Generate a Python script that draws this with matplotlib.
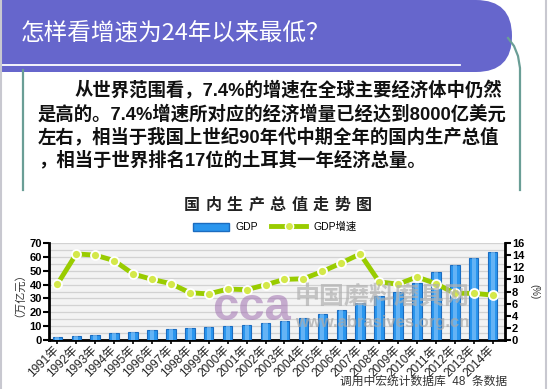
import matplotlib
matplotlib.use('Agg')
import matplotlib.pyplot as plt
from matplotlib.patches import FancyBboxPatch, Patch
from matplotlib.lines import Line2D
from matplotlib.ticker import MultipleLocator

plt.rcParams['font.family'] = ['Liberation Sans', 'Noto Sans CJK SC', 'DejaVu Sans']

years = ['1991年', '1992年', '1993年', '1994年', '1995年', '1996年', '1997年', '1998年',
         '1999年', '2000年', '2001年', '2002年', '2003年', '2004年', '2005年', '2006年',
         '2007年', '2008年', '2009年', '2010年', '2011年', '2012年', '2013年', '2014年']
# GDP, 万亿元
gdp = [2.2, 2.7, 3.6, 4.9, 6.1, 7.2, 8.0, 8.5, 9.1, 10.0, 11.1, 12.2,
       13.7, 16.2, 18.7, 21.9, 27.0, 32.0, 34.9, 41.3, 48.9, 54.0, 59.5, 63.6]
# GDP增速, %
growth = [9.2, 14.2, 14.0, 13.1, 10.9, 10.0, 9.3, 7.8, 7.6, 8.4, 8.3, 9.1,
          10.0, 10.1, 11.3, 12.7, 14.2, 9.6, 9.2, 10.4, 9.3, 7.7, 7.7, 7.4]

banner_title = '怎样看增速为24年以来最低？'
paragraph = ['从世界范围看，7.4%的增速在全球主要经济体中仍然',
             '是高的。7.4%增速所对应的经济增量已经达到8000亿美元',
             '左右，相当于我国上世纪90年代中期全年的国内生产总值',
             '，相当于世界排名17位的土耳其一年经济总量。']
chart_title = '国内生产总值走势图'
footer = '调用中宏统计数据库  48  条数据'

W, H = 550, 389
fig = plt.figure(figsize=(W / 100, H / 100), dpi=100)
fig.patch.set_facecolor('white')

# slide background drawn in pixel coordinates
bg = fig.add_axes([0, 0, 1, 1], zorder=0)
bg.set_xlim(0, W)
bg.set_ylim(H, 0)
bg.axis('off')

purple = '#6666cc'
teal = '#6a9e96'
bg.add_patch(FancyBboxPatch((-60, 0), 572, 72, boxstyle='round,pad=0,rounding_size=36',
                            facecolor=purple, edgecolor='none'))
bg.plot([0, 460], [64.5, 64.5], color='white', lw=1.3)
bg.text(21, 34, banner_title, color='white', fontsize=17, va='center', ha='left',
        fontweight='medium', family=['Noto Sans CJK SC'])

# border lines
bg.plot([1, 1], [0, H], color='#c8c8d0', lw=1.5)
bg.plot([546, 546], [0, H], color='#c8c8d0', lw=1.5)
bg.plot([23, 23], [70, 190], color=teal, lw=1.6)
bg.plot([508, 514, 518, 520, 520], [38, 46, 56, 68, 190], color=teal, lw=1.6)

line_pos = [(75, 91), (38, 114), (38, 137), (38, 160)]
for (x, y), s in zip(line_pos, paragraph):
    bg.text(x, y, s, fontsize=13.2, fontweight='bold', va='center', ha='left', color='#111111')

# chart title with letter spacing
for i, ch in enumerate(chart_title):
    bg.text(192 + i * 21.5, 205, ch, fontsize=11.5, fontweight='bold', ha='center', va='center',
            family=['Noto Sans CJK SC'], color='#222222')

bg.text(14, 289, '（万亿元）', rotation=90, fontsize=8, ha='center', va='center', color='#333333')
bg.text(534, 292, '(%)', rotation=270, fontsize=7, ha='center', va='center', color='#333333')
bg.text(507, 382, footer, fontsize=8.5, ha='right', va='center', color='#333333')

# chart
ax = fig.add_axes([49 / W, 1 - 340 / H, 456 / W, 97 / H], zorder=2)
ax.set_facecolor('#f3f3f3')
x = list(range(len(years)))
ax.bar(x, gdp, width=0.5, color='#2a96ee', edgecolor='#1b6cc0', linewidth=0.8, zorder=3)
ax.bar(x, gdp, width=0.22, color='#8cc8fa', edgecolor='none', zorder=3.5, alpha=0.6)
ax.set_xlim(-0.44, 23.65)
ax.set_ylim(0, 70)
ax.yaxis.set_major_locator(MultipleLocator(10))
ax.yaxis.set_minor_locator(MultipleLocator(5))
ax.grid(axis='y', which='both', color='#d2d2d2', lw=0.9, zorder=0)
ax.set_axisbelow(True)
ax.set_xticks(x)
ax.set_xticklabels(years, rotation=45, ha='right', va='center', rotation_mode='anchor',
                   fontsize=8.5, color='#222222')
ax.tick_params(axis='x', length=3, width=1.2, pad=3)
ax.tick_params(axis='y', which='major', length=4, width=1.5, labelsize=8, pad=1)
ax.tick_params(axis='y', which='minor', length=0)
for lab in ax.get_yticklabels():
    lab.set_fontweight('bold')
for side in ['top', 'right']:
    ax.spines[side].set_visible(False)
ax.spines['left'].set_linewidth(2)
ax.spines['bottom'].set_linewidth(2)

ax2 = ax.twinx()
ax2.set_zorder(3)
ax2.patch.set_visible(False)
ax2.plot(x, growth, color='#99cc00', lw=3.5, marker='o', markersize=6.5,
         markerfacecolor='#d4e84a', markeredgecolor='white', markeredgewidth=1.3, zorder=5)
ax2.set_ylim(0, 16)
ax2.yaxis.set_major_locator(MultipleLocator(2))
ax2.tick_params(axis='y', length=4, width=1.5, labelsize=8, pad=1)
for lab in ax2.get_yticklabels():
    lab.set_fontweight('bold')
for side in ['top', 'left', 'bottom']:
    ax2.spines[side].set_visible(False)
ax2.spines['right'].set_linewidth(2)

# watermark
fig.text(252 / W, 1 - 308 / H, 'cca', fontsize=34, fontweight='bold', color='#a070b0',
         alpha=0.55, ha='center', va='center', zorder=4)
fig.text(382 / W, 1 - 297 / H, '中国磨料磨具网', fontsize=18, fontweight='bold', color='#b0b0b0',
         alpha=0.7, ha='center', va='center', zorder=4, family=['Noto Sans CJK SC'])
fig.text(382 / W, 1 - 322 / H, 'www.abrasives.org.cn', fontsize=12, fontweight='bold',
         color='#a8a8a8', alpha=0.7, ha='center', va='center', zorder=4)

handles = [Patch(facecolor='#2a96ee', edgecolor='#1b6cc0'),
           Line2D([], [], color='#99cc00', lw=3.5, marker='o', markersize=6,
                  markerfacecolor='#d4e84a', markeredgecolor='white')]
fig.legend(handles, ['GDP', 'GDP增速'], loc='center', bbox_to_anchor=(275 / W, 1 - 227 / H),
           ncol=2, frameon=False, fontsize=7.5, handlelength=3.4, handleheight=0.8,
           columnspacing=1.2, handletextpad=0.7)

fig.savefig('out.png', dpi=100)
